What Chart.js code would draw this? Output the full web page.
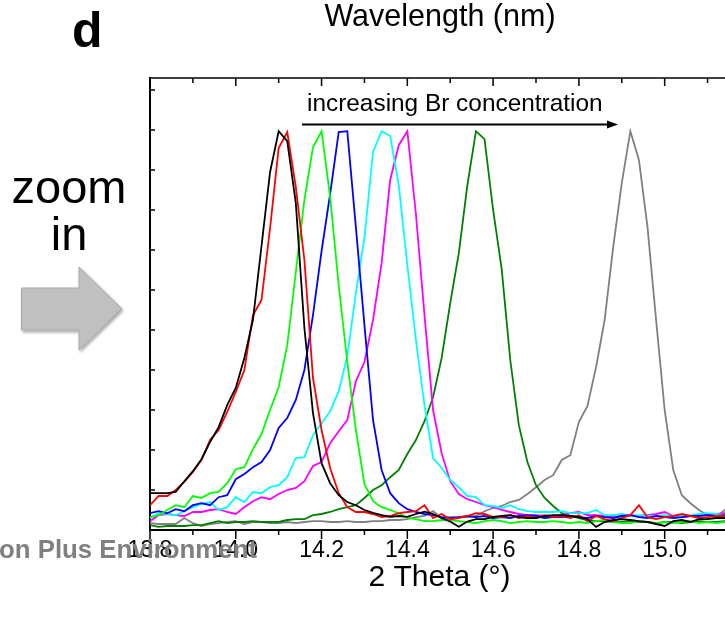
<!DOCTYPE html>
<html>
<head>
<meta charset="utf-8">
<title>XRD zoom</title>
<script src="https://cdn.jsdelivr.net/npm/chart.js@4.4.0/dist/chart.umd.min.js"></script>
<style>
    html, body { margin: 0; padding: 0; background: #fff; overflow: hidden; }
    #figura { position: relative; width: 725px; height: 619px; overflow: hidden; font-family: Arial, "Liberation Sans", sans-serif; }
    #grafico { position: absolute; left: 0; top: 0; }
    .rotulo { position: absolute; white-space: nowrap; line-height: 1; color: #000; }
    #setas { position: absolute; left: 0; top: 0; }
</style>
</head>
<body>
<div id="figura">
    <canvas id="grafico" width="735" height="619"></canvas>
    <svg id="setas" width="725" height="619">
        <defs>
            <filter id="sombra" x="-20%" y="-20%" width="140%" height="140%">
                <feDropShadow dx="1.5" dy="2" stdDeviation="1.5" flood-color="#000" flood-opacity="0.35"/>
            </filter>
        </defs>
        <polygon points="21.5,288 79,288 79,267 121.5,308.5 79,350 79,330 21.5,330" fill="#c0c0c0" stroke="#a9a9a9" stroke-width="1" filter="url(#sombra)"/>
        <line x1="302" y1="124.5" x2="609" y2="124.5" stroke="#000" stroke-width="2"/>
        <polygon points="607,120.5 618,124.5 607,128.5" fill="#000"/>
    </svg>
    <div class="rotulo" style="left:72px; top:5px; font-size:50px; font-weight:bold;">d</div>
    <div class="rotulo" style="left:440px; top:0px; font-size:30.5px; transform:translateX(-50%);">Wavelength (nm)</div>
    <div class="rotulo" style="left:307px; top:91px; font-size:24.4px;">increasing Br concentration</div>
    <div class="rotulo" style="left:69px; top:163px; font-size:47px; line-height:47px; text-align:center; transform:translateX(-50%);">zoom<br>in</div>
    <div class="rotulo" style="left:-1px; top:537px; font-size:25.8px; font-weight:bold; color:#808080;">on Plus Environment</div>
</div>

<script>
// --- EIXOS ---
const thetaInicio = 13.80;
const thetaPasso = 0.02;
const xTicks = [13.8, 14.0, 14.2, 14.4, 14.6, 14.8, 15.0];
const xTicksMenores = [13.8, 13.9, 14.0, 14.1, 14.2, 14.3, 14.4, 14.5, 14.6, 14.7, 14.8, 14.9, 15.0, 15.1];
const yTicks = [100, 200, 300, 400, 500, 600, 700, 800, 900, 1000, 1100];

// --- INTENSIDADES (u.a.), uma por passo de 0.02 grau a partir de 13.80 ---
const serieBlack = [92, 92, 92, 95, 122, 147, 177, 220, 257, 312,
    355, 430, 525, 710, 895, 997, 972, 817, 505, 292,
    167, 117, 87, 70, 62, 50, 43, 37, 33, 35,
    33, 40, 46, 40, 30, 21, 8, 21, 27, 27,
    33, 35, 37, 32, 30, 30, 35, 37, 37, 35,
    32, 27, 8, 20, 25, 27, 25, 22, 20, 15,
    10, 22, 25, 20, 27, 27, 30, 30, 30];
const serieRed = [62, 85, 85, 100, 120, 145, 175, 225, 250, 295,
    345, 400, 537, 575, 755, 955, 995, 857, 675, 380,
    250, 155, 92, 57, 45, 45, 40, 32, 35, 42,
    45, 47, 62, 30, 40, 27, 30, 35, 42, 40,
    32, 32, 37, 30, 35, 30, 37, 32, 35, 30,
    37, 22, 35, 27, 22, 30, 37, 62, 32, 27,
    32, 35, 40, 35, 30, 32, 35, 35, 35];
const serieGreen = [32, 37, 50, 62, 57, 85, 80, 92, 95, 117,
    152, 157, 202, 240, 300, 357, 462, 645, 825, 957,
    997, 832, 612, 420, 250, 115, 72, 57, 50, 42,
    30, 27, 22, 22, 25, 25, 22, 20, 17, 22,
    25, 22, 17, 20, 22, 20, 20, 22, 20, 17,
    20, 17, 22, 25, 20, 17, 17, 22, 20, 17,
    20, 17, 20, 22, 17, 20, 17, 20, 20];
const serieBlue = [42, 47, 42, 52, 47, 62, 67, 62, 82, 87,
    127, 140, 157, 170, 200, 255, 280, 325, 400, 537,
    697, 840, 995, 997, 757, 512, 275, 150, 92, 67,
    52, 45, 40, 37, 32, 30, 32, 35, 32, 35,
    30, 32, 30, 35, 37, 35, 30, 32, 32, 35,
    32, 30, 35, 32, 30, 35, 37, 32, 30, 35,
    32, 30, 32, 35, 35, 37, 35, 37, 37];
const serieCyan = [30, 42, 40, 37, 47, 57, 65, 70, 50, 57,
    82, 70, 95, 92, 107, 112, 132, 180, 182, 237,
    267, 297, 347, 435, 592, 730, 945, 997, 985, 862,
    662, 475, 312, 180, 155, 125, 107, 85, 82, 62,
    60, 55, 62, 52, 47, 45, 45, 45, 47, 42,
    42, 42, 50, 37, 37, 40, 35, 37, 35, 35,
    37, 35, 35, 37, 40, 42, 40, 37, 37];
const serieMagenta = [22, 37, 40, 37, 35, 45, 45, 50, 52, 45,
    40, 57, 72, 82, 77, 90, 100, 105, 122, 160,
    170, 217, 247, 275, 372, 420, 525, 667, 875, 962,
    997, 790, 537, 300, 192, 122, 90, 77, 70, 62,
    57, 50, 45, 40, 37, 37, 35, 35, 37, 42,
    45, 37, 37, 35, 32, 35, 37, 35, 37, 40,
    45, 35, 32, 35, 37, 37, 40, 42, 42];
const serieOlive = [12, 8, 10, 10, 10, 12, 12, 17, 22, 17,
    20, 20, 22, 20, 20, 20, 25, 27, 27, 37,
    40, 45, 52, 57, 62, 80, 100, 112, 132, 150,
    190, 225, 272, 332, 430, 567, 692, 862, 997, 977,
    800, 652, 425, 262, 170, 112, 80, 60, 42, 35,
    30, 25, 22, 22, 20, 20, 22, 20, 20, 17,
    20, 20, 17, 20, 22, 20, 20, 22, 22];
const serieGray = [17, 15, 15, 15, 30, 17, 10, 15, 17, 20,
    22, 15, 20, 20, 17, 17, 20, 17, 20, 22,
    22, 20, 20, 22, 20, 20, 22, 22, 25, 25,
    27, 32, 35, 47, 30, 32, 32, 32, 35, 47,
    55, 60, 70, 75, 90, 107, 125, 137, 175, 187,
    270, 310, 407, 525, 707, 867, 997, 925, 757, 525,
    300, 150, 87, 67, 50, 37, 32, 50, 62];

const series = [
    { nome: 'black', cor: '#000000', dados: serieBlack },
    { nome: 'red', cor: '#ff0000', dados: serieRed },
    { nome: 'green', cor: '#00ff00', dados: serieGreen },
    { nome: 'blue', cor: '#0000ff', dados: serieBlue },
    { nome: 'cyan', cor: '#00ffff', dados: serieCyan },
    { nome: 'magenta', cor: '#ff00ff', dados: serieMagenta },
    { nome: 'olive', cor: '#008000', dados: serieOlive },
    { nome: 'gray', cor: '#808080', dados: serieGray },
];

function montarPontos(valores) {
    return valores.map((v, i) => ({ x: +(thetaInicio + i * thetaPasso).toFixed(2), y: v }));
}

// --- TRACOS DOS EIXOS (para dentro em cima/esquerda, para fora embaixo) ---
const marcasEixos = {
    id: 'marcasEixos',
    afterDraw(chart) {
        const { ctx, chartArea: a, scales: { x, y } } = chart;
        ctx.save();
        ctx.strokeStyle = '#000';
        ctx.lineWidth = 1.5;
        ctx.beginPath();
        ctx.moveTo(a.left, a.top);
        ctx.lineTo(a.right + 2, a.top);
        xTicksMenores.forEach(t => {
            const px = x.getPixelForValue(t);
            const maior = xTicks.some(m => Math.abs(m - t) < 1e-6);
            ctx.moveTo(px, a.bottom);
            ctx.lineTo(px, a.bottom + (maior ? 9 : 5));
            ctx.moveTo(px, a.top);
            ctx.lineTo(px, a.top + (maior ? 8 : 5));
        });
        yTicks.forEach(t => {
            const py = y.getPixelForValue(t);
            ctx.moveTo(a.left, py);
            ctx.lineTo(a.left + 5, py);
        });
        ctx.stroke();
        ctx.restore();
    }
};

new Chart(document.getElementById('grafico'), {
    type: 'line',
    data: {
        datasets: series.map(s => ({
            label: s.nome,
            data: montarPontos(s.dados),
            borderColor: s.cor,
            backgroundColor: s.cor,
            borderWidth: 1.8,
            pointRadius: 0,
            tension: 0,
            fill: false
        }))
    },
    options: {
        responsive: false,
        animation: false,
        devicePixelRatio: 1,
        layout: { padding: { top: 78, right: 6, bottom: 0, left: 0 } },
        plugins: {
            legend: { display: false },
            tooltip: { enabled: false }
        },
        scales: {
            x: {
                type: 'linear',
                position: 'bottom',
                min: 13.8,
                max: 15.15,
                afterBuildTicks: s => { s.ticks = xTicks.map(v => ({ value: v })); },
                afterFit: s => { s.height = 89; },
                grid: { display: false, drawTicks: false },
                border: { display: true, color: '#000', width: 2 },
                ticks: {
                    color: '#000',
                    font: { family: 'Arial', size: 23 },
                    padding: 7,
                    maxRotation: 0,
                    autoSkip: false,
                    callback: v => Number(v).toFixed(1)
                },
                title: {
                    display: true,
                    text: '2 Theta (°)',
                    color: '#000',
                    font: { family: 'Arial', size: 30 },
                    padding: { top: 0, bottom: 23 }
                }
            },
            y: {
                min: 0,
                max: 1130,
                afterBuildTicks: s => { s.ticks = yTicks.map(v => ({ value: v })); },
                afterFit: s => { s.width = 150; },
                grid: { display: false, drawTicks: false },
                border: { display: true, color: '#000', width: 2 },
                ticks: { display: false }
            }
        }
    },
    plugins: [marcasEixos]
});
</script>
</body>
</html>
